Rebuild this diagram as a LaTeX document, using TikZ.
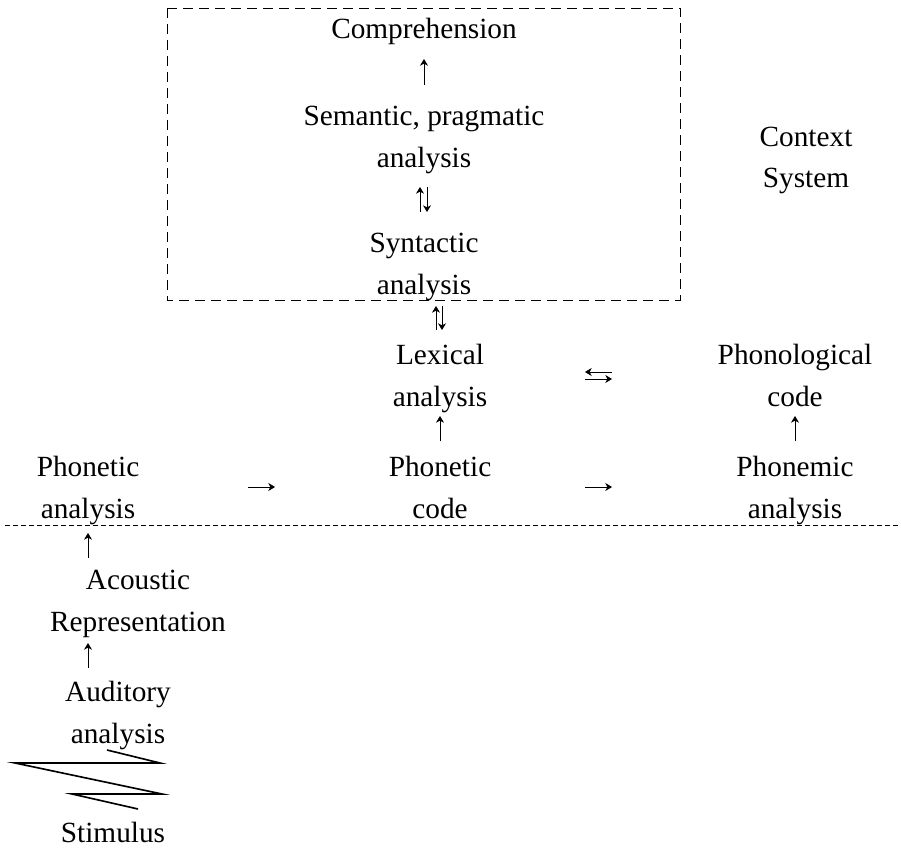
\documentclass[tikz,border=0pt]{standalone}
\usepackage{fontspec}
\setmainfont{Liberation Serif}
\usetikzlibrary{arrows.meta,calc}
\tikzset{
  lbl/.style={anchor=base,align=center,inner sep=0pt,font=\fontsize{25}{35.7}\selectfont},
  arr/.style={-{Stealth[length=2mm,width=2.4mm,inset=0.6mm]},line width=0.8pt},
  dashbox/.style={dash pattern=on 3mm off 1.8mm,line width=0.7pt},
  dashline/.style={dash pattern=on 1.5mm off 0.9mm,line width=0.6pt}
}
\begin{document}
\begin{tikzpicture}[x=0.3mm,y=-0.3mm]
\useasboundingbox (0,0) rectangle (901,856);

% upper box
\draw[dashbox] (167,8) rectangle (680,300);
\node[lbl] (comp) at (424,39) {Comprehension};
\node[lbl] (sem) at (424,167) {Semantic, pragmatic\\analysis};
\node[lbl] (syn) at (424,294) {Syntactic\\analysis};
\node[lbl] (ctx) at (806,188) {Context\\System};

\node[lbl] (lex) at (440,406) {Lexical\\analysis};
\node[lbl] (phon) at (795,406) {Phonological\\code};
\node[lbl] (pc) at (440,518) {Phonetic\\code};
\node[lbl] (pm) at (795,518) {Phonemic\\analysis};
\node[lbl] (pa) at (88,518) {Phonetic\\analysis};

% lower part
\draw[dashline] (5,525) -- (901,525);
\node[lbl] (ac) at (138,631) {Acoustic\\Representation};
\node[lbl] (aud) at (118,743) {Auditory\\analysis};
\node[lbl] (stim) at (113,842) {Stimulus};
\draw[line width=1.4pt,line join=miter] (107,750) -- (160,763) -- (15,763) -- (162,794) -- (72,794) -- (138,809);

% arrows
\draw[arr] ($(sem.base)+(0,-82)$) -- ($(sem.base)+(0,-108)$);
\draw[arr] ($(syn.base)+(-4,-82)$) -- ($(syn.base)+(-4,-107)$);
\draw[arr] ($(syn.base)+(3,-107)$) -- ($(syn.base)+(3,-82)$);
\draw[arr] ($(lex.base)+(-4,-76)$) -- ($(lex.base)+(-4,-100)$);
\draw[arr] ($(lex.base)+(2,-100)$) -- ($(lex.base)+(2,-76)$);
\draw[arr] ($(pc.base)+(0,-77)$) -- ($(pc.base)+(0,-102)$);
\draw[arr] ($(pm.base)+(0,-77)$) -- ($(pm.base)+(0,-102)$);
\draw[arr] ($(pa.base)+(0,40)$) -- ($(pa.base)+(0,15)$);
\draw[arr] ($(aud.base)+(-30,-75)$) -- ($(aud.base)+(-30,-100)$);
\draw[arr] ($(pa.base)+(160,-31)$) -- ($(pa.base)+(187,-31)$);
\draw[arr] ($(pc.base)+(145,-31)$) -- ($(pc.base)+(172,-31)$);
\draw[arr] ($(lex.base)+(172,-34)$) -- ($(lex.base)+(145,-34)$);
\draw[arr] ($(lex.base)+(145,-27)$) -- ($(lex.base)+(172,-27)$);

\end{tikzpicture}
\end{document}
